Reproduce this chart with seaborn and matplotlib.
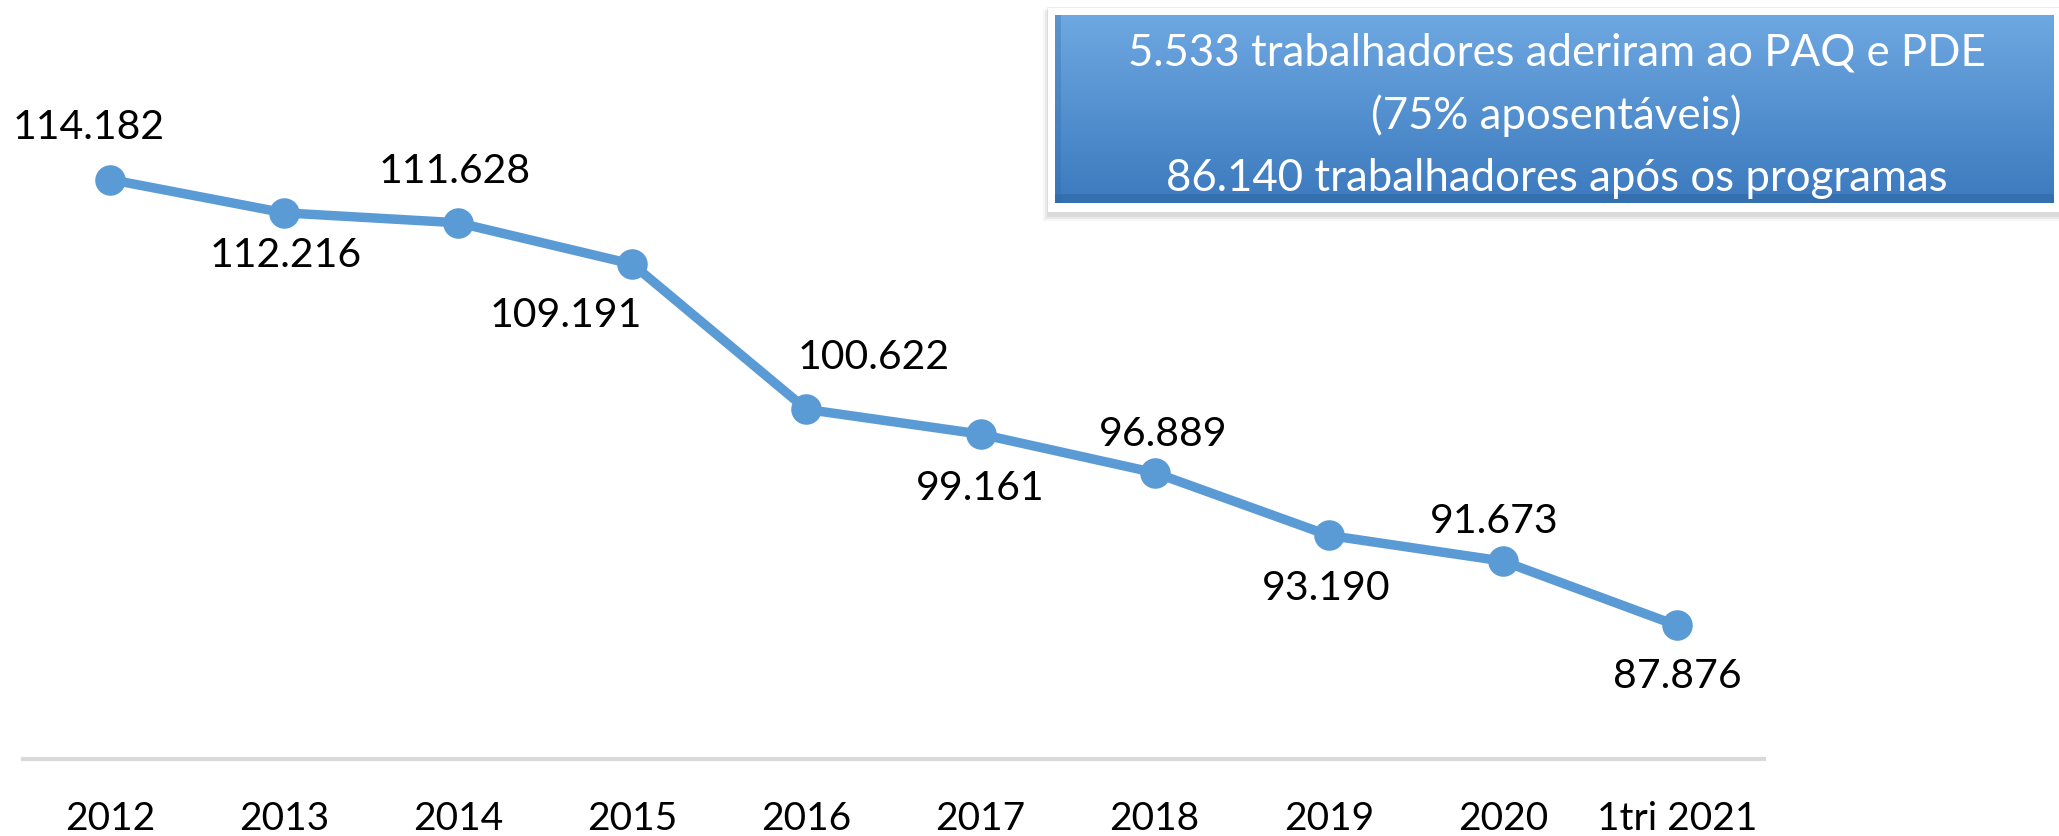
import matplotlib.pyplot as plt
import numpy as np
import pandas as pd
import seaborn as sns
from matplotlib.patches import Rectangle

# chart values
anos = ["2012", "2013", "2014", "2015", "2016", "2017", "2018", "2019", "2020", "1tri 2021"]
trabalhadores = [114.182, 112.216, 111.628, 109.191, 100.622, 99.161, 96.889, 93.190, 91.673, 87.876]
rotulos = ["114.182", "112.216", "111.628", "109.191", "100.622", "99.161", "96.889", "93.190", "91.673", "87.876"]
caixa_texto = ["5.533 trabalhadores aderiram ao PAQ e PDE",
               "(75% aposentáveis)",
               "86.140 trabalhadores após os programas"]

# label offsets in pixels (dx, dy), dy positive = up
offsets = [(-21, 52), (2, -43), (-4, 51), (-67, -51), (67, 52),
           (0, -54), (9, 38), (-3, -53), (-9, 40), (0, -51)]

df = pd.DataFrame({"ano": anos, "trabalhadores": trabalhadores})

sns.set_style("white")
plt.rcParams["font.family"] = ["Lato", "DejaVu Sans"]

W, H = 2059, 836
fig = plt.figure(figsize=(W / 100, H / 100), dpi=100)
ax = fig.add_axes([23 / W, 1 - 759 / H, 1741 / W, 759 / H])

azul = "#5b9bd5"
sns.lineplot(data=df, x="ano", y="trabalhadores", sort=False, ax=ax,
             color=azul, linewidth=6.8, marker="o", markersize=22,
             markeredgewidth=0)

for i, (v, txt) in enumerate(zip(trabalhadores, rotulos)):
    dx, dy = offsets[i]
    ax.annotate(txt, (i, v), xytext=(dx, dy), textcoords="offset pixels",
                ha="center", va="center", fontsize=29.5, color="black")

ax.set_xlim(-0.5, 9.5)
ax.set_ylim(80, 124.77)
ax.set_xlabel("")
ax.set_ylabel("")
ax.set_yticks([])
for s in ["top", "left", "right"]:
    ax.spines[s].set_visible(False)
ax.spines["bottom"].set_color("#d9d9d9")
ax.spines["bottom"].set_linewidth(3)
ax.tick_params(axis="x", length=0, pad=30, labelsize=28, colors="black")

# text box with gradient
bx0, by0, bx1, by1 = 1048, 8, 2059, 212
for k, a in enumerate([0.07, 0.1, 0.13]):
    fig.patches.append(Rectangle(((bx0 - 5 + k * 2) / W, 1 - (by1 + 9 - k * 2) / H),
                                 (bx1 - bx0 + 8) / W, (by1 - by0 + 6) / H,
                                 transform=fig.transFigure, color="gray",
                                 alpha=a, lw=0, zorder=1))
fig.patches.append(Rectangle((bx0 / W, 1 - by1 / H), (bx1 - bx0) / W, (by1 - by0) / H,
                             transform=fig.transFigure, color="white", lw=0, zorder=2))

bax = fig.add_axes([1055 / W, 1 - 203 / H, (2054 - 1055) / W, (203 - 15) / H])
bax.set_zorder(3)
top = np.array([110, 168, 226]) / 255
bot = np.array([60, 122, 190]) / 255
t = np.linspace(0, 1, 200)[:, None]
grad = top[None, :] * (1 - t) + bot[None, :] * t
grad = np.repeat(grad[:, None, :], 2, axis=1)
bax.imshow(grad, aspect="auto", extent=[0, 1, 0, 1], origin="upper")
bax.add_patch(Rectangle((0, 0), 1, 0.05, color="#2f68a6", alpha=0.6, lw=0))
bax.add_patch(Rectangle((0, 0), 0.006, 1, color="#2f68a6", alpha=0.3, lw=0))
bax.set_xlim(0, 1)
bax.set_ylim(0, 1)
bax.axis("off")
for j, linha in enumerate(caixa_texto):
    bax.text(0.502, [0.80, 0.465, 0.13][j], linha, ha="center", va="center",
             fontsize=31.5, color="white", transform=bax.transAxes)

fig.savefig("out.png", dpi=100)
